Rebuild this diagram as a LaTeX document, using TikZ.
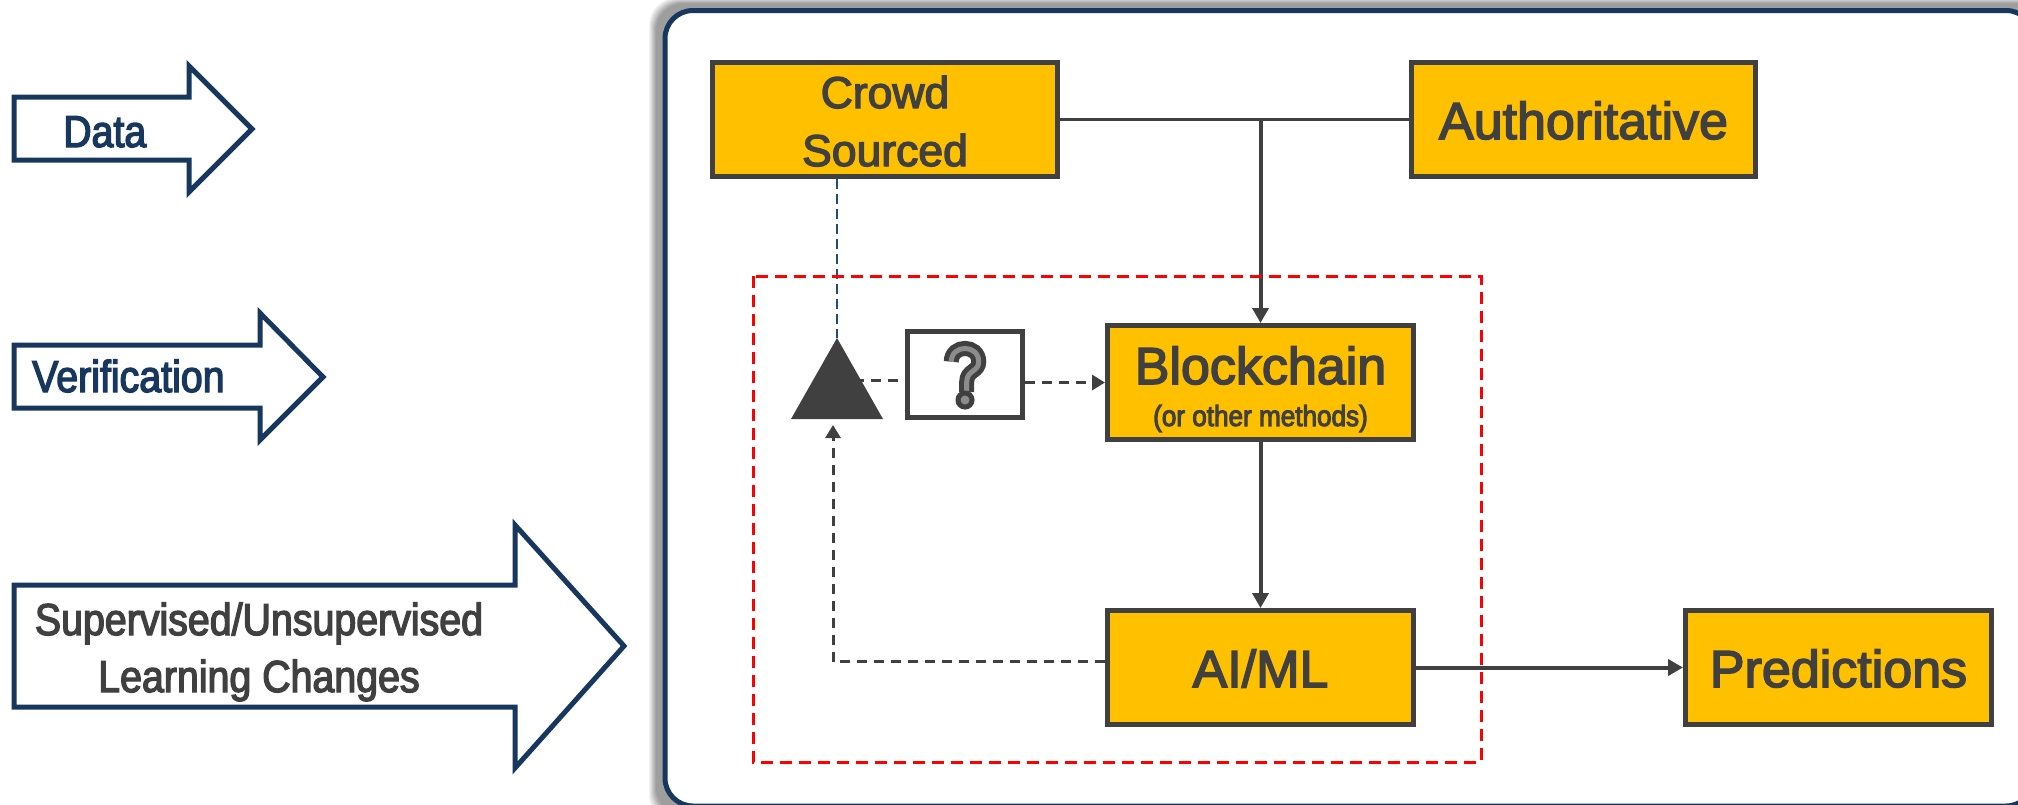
\documentclass[tikz,border=0pt]{standalone}
\usepackage{fontspec}
\usetikzlibrary{positioning}
\usetikzlibrary{arrows.meta}
\usetikzlibrary{shapes.geometric}
\newfontfamily\boxfont[FakeBold=3]{Liberation Sans}
\newfontfamily\narrowfont[FakeStretch=0.88,FakeBold=3]{Liberation Sans}
\newfontfamily\subfont[FakeStretch=0.9,FakeBold=3.5]{Liberation Sans}
\definecolor{navy}{HTML}{17375e}
\definecolor{slate}{HTML}{404040}
\definecolor{gold}{HTML}{ffc000}
\definecolor{wire}{HTML}{1f4e79}
\tikzset{
  goldbox/.style={draw=slate, fill=gold, line width=5pt, text=slate, minimum width=306pt, minimum height=114pt, inner sep=0pt, align=center, text height=39pt, text depth=0pt, font=\boxfont\fontsize{52}{58}\selectfont},
  flowarrow/.style={draw=navy, fill=white, line width=5pt, miter limit=10},
  flowlabel/.style={inner sep=0pt, text=navy, font=\narrowfont\fontsize{44.7}{57}\selectfont},
  link/.style={draw=slate, line width=4pt},
  linkarrow/.style={link, -{Triangle[length=15pt,width=16pt]}},
  dashlink/.style={draw=slate, line width=3pt, dash pattern=on 10pt off 7pt, -{Triangle[length=13pt,width=15pt]}}
}
\begin{document}
\begin{tikzpicture}[x=1pt, y=-1pt]
      \useasboundingbox (0,0) rectangle (2018,804);
      \clip (0,0) rectangle (2018,804);
      % Panel with its shadow
      \foreach \offs in {16,15,...,1} {
        \pgfmathsetmacro{\tone}{min(38,5*(17-\offs))}
        \fill[black!\tone, rounded corners=28pt] (665-\offs,10.5-0.8*\offs) rectangle (2034+\offs,806+\offs);
      }
      \draw[navy, fill=white, line width=5pt, rounded corners=28pt] (665,10.5) rectangle (2034,806);
      % Define nodes
      \node[goldbox, minimum width=345pt, text height=93pt, font=\boxfont\fontsize{44.5}{58}\selectfont] (crowd) at (885,119.5) {Crowd\\Sourced};
      \node[goldbox, minimum width=344pt, right=349pt of crowd] (auth) {Authoritative};
      \node[goldbox, below=144pt of crowd, xshift=375.5pt] (block) {};
      \node[inner sep=0pt, text=slate, font=\boxfont\fontsize{52}{58}\selectfont, anchor=base] (blocktext) at (1260.5,384) {Blockchain};
      \node[inner sep=0pt, text=slate, font=\subfont\fontsize{29}{34}\selectfont, anchor=base] (blocksub) at (1260.5,426) {(or other methods)};
      \node[goldbox, below=166pt of block] (aiml) {AI/ML};
      \node[goldbox, right=267pt of aiml] (pred) {Predictions};
      \node[draw=slate, fill=white, line width=5pt, minimum width=115pt, minimum height=86pt, inner sep=0pt, left=80pt of block, yshift=8pt] (qbox) {};
      \node[isosceles triangle, isosceles triangle stretches, shape border rotate=90, minimum width=92pt, minimum height=81pt, inner sep=0pt, outer sep=0pt, fill=slate, anchor=apex] (tri) at (837,338) {};
      % Question mark
      \draw[slate, double=black!45, line width=5pt, double distance=5pt] (951.3,361.7) .. controls (951.3,344) and (978.7,344) .. (978.7,361.7) .. controls (978.7,372) and (966.7,370) .. (966.7,382) -- (966.7,392);
      \node[circle, draw=slate, fill=black!45, line width=5pt, minimum size=14pt, inner sep=0pt] (qdot) at (965,400) {};
      % Connections
      \draw[link, line width=3.5pt] (crowd.east) -- (auth.west);
      \draw[linkarrow] (block.north |- crowd.east) -- (block.north);
      \draw[linkarrow] (block.south) -- (aiml.north);
      \draw[linkarrow] (aiml.east) -- (pred.west);
      \draw[wire, line width=2.5pt, dash pattern=on 10pt off 5pt] (tri.apex |- crowd.south) -- (tri.apex);
      \draw[draw=slate, line width=3pt, dash pattern=on 10pt off 7pt] (tri.center |- 0,380) -- (qbox.west |- 0,380);
      \draw[dashlink] (qbox.east |- block.west) -- (block.west);
      \draw[dashlink] ([yshift=6pt]aiml.west) -| ([xshift=-4pt,yshift=-6pt]tri.south);
      % Red frame
      \draw[red, line width=3pt, dash pattern=on 12pt off 7pt] (753,276) rectangle (1481,762);
      % Left arrows
      \draw[flowarrow] (14,97) -- (189,97) -- (189,66) -- (252,129) -- (189,192) -- (189,160) -- (14,160) -- cycle;
      \node[flowlabel, anchor=base west] (data) at (63,147) {Data};
      \draw[flowarrow] (14,345) -- (260,345) -- (260,313) -- (323,377) -- (260,440) -- (260,408) -- (14,408) -- cycle;
      \node[flowlabel, anchor=base west] (verif) at (32,392) {Verification};
      \draw[flowarrow] (14,585) -- (515,585) -- (515,525) -- (624,646) -- (515,768) -- (515,707) -- (14,707) -- cycle;
      \node[flowlabel, text=slate, anchor=base] (learn) at (259,635) {Supervised/Unsupervised};
      \node[flowlabel, text=slate, below=57pt of learn.base, anchor=base] (change) {Learning Changes};
    \end{tikzpicture}
\end{document}
